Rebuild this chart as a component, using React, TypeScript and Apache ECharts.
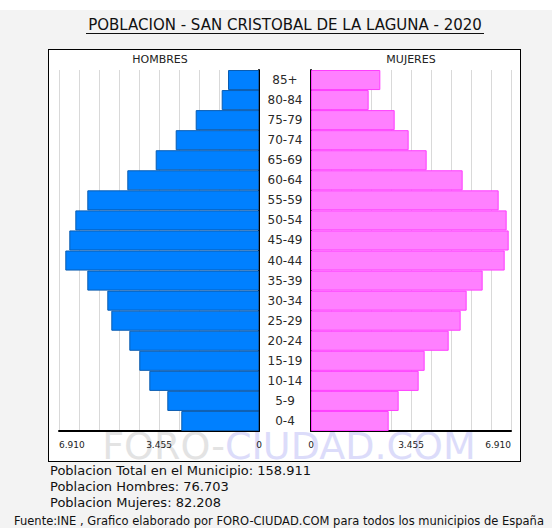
import React, { useEffect, useRef } from "react";
import * as echarts from "echarts";

const ageGroups = ["0-4", "5-9", "10-14", "15-19", "20-24", "25-29", "30-34", "35-39", "40-44", "45-49", "50-54", "55-59", "60-64", "65-69", "70-74", "75-79", "80-84", "85+"];
const hombres = [2685, 3168, 3790, 4136, 4481, 5103, 5241, 5932, 6692, 6554, 6346, 5932, 4550, 3569, 2878, 2187, 1289, 1071];
const mujeres = [2684, 3029, 3720, 3927, 4757, 5171, 5378, 5931, 6692, 6830, 6760, 6484, 5240, 3996, 3374, 2891, 1992, 2395];
const axisMax = 6910;
const axisStep = 691;
const labeledTicks = [0, 3455, 6910];

const titleText = "POBLACION - SAN CRISTOBAL DE LA LAGUNA - 2020";
const summaryLines = [
  "Poblacion Total en el Municipio: 158.911",
  "Poblacion Hombres: 76.703",
  "Poblacion Mujeres: 82.208",
];
const sourceText = "Fuente:INE , Grafico elaborado por FORO-CIUDAD.COM para todos los municipios de España";

const FONT = "DejaVu Sans, Verdana, sans-serif";

function fmt(v: number): string {
  return String(Math.round(v)).replace(/\B(?=(\d{3})+(?!\d))/g, ".");
}

export default function App() {
  const ref = useRef<HTMLDivElement>(null);

  useEffect(() => {
    if (!ref.current) return;
    const chart = echarts.init(ref.current, null, { renderer: "svg" });
    const tickLabel = (v: number) => (labeledTicks.includes(Math.round(v)) ? fmt(v) : "");
    const xCommon = {
      type: "value" as const,
      min: 0,
      max: axisMax,
      interval: axisStep,
      axisLine: { show: true, lineStyle: { color: "#000", width: 2 } },
      axisTick: { show: false },
      splitLine: { show: true, lineStyle: { color: "#d9d9d9", width: 1 } },
    };
    chart.setOption({
      animation: false,
      backgroundColor: "transparent",
      textStyle: { fontFamily: FONT },
      grid: [
        { left: 59, top: 70, width: 200, height: 361 },
        { left: 311, top: 70, width: 200, height: 361 },
      ],
      xAxis: [
        {
          ...xCommon,
          gridIndex: 0,
          inverse: true,
          axisLabel: { formatter: tickLabel, fontSize: 9, color: "#222", margin: 9, fontFamily: FONT, alignMaxLabel: "left", showMinLabel: true, showMaxLabel: true },
        },
        {
          ...xCommon,
          gridIndex: 1,
          axisLabel: { formatter: tickLabel, fontSize: 9, color: "#222", margin: 9, fontFamily: FONT, alignMaxLabel: "right", showMinLabel: true, showMaxLabel: true },
        },
      ],
      yAxis: [
        {
          type: "category",
          gridIndex: 0,
          position: "right",
          data: ageGroups,
          axisLine: { show: true, lineStyle: { color: "#000", width: 2 } },
          axisTick: { show: false },
          axisLabel: { show: false },
          splitLine: { show: false },
        },
        {
          type: "category",
          gridIndex: 1,
          position: "left",
          data: ageGroups,
          axisLine: { show: true, lineStyle: { color: "#000", width: 2 } },
          axisTick: { show: false },
          axisLabel: { show: true, align: "center", margin: 26, fontSize: 12, color: "#2a2a2a", fontFamily: FONT, interval: 0 },
          splitLine: { show: false },
        },
      ],
      series: [
        {
          type: "bar",
          name: "HOMBRES",
          xAxisIndex: 0,
          yAxisIndex: 0,
          data: hombres,
          barCategoryGap: "0%",
          itemStyle: { color: "#0080ff", borderColor: "#0a5cb0", borderWidth: 1 },
        },
        {
          type: "bar",
          name: "MUJERES",
          xAxisIndex: 1,
          yAxisIndex: 1,
          data: mujeres,
          barCategoryGap: "0%",
          itemStyle: { color: "#ff80ff", borderColor: "#ff3cff", borderWidth: 1 },
        },
      ],
      graphic: [
        {
          type: "text",
          z: 0,
          x: 289,
          y: 446,
          style: {
            text: "{a|FORO-}{b|CIUDAD.COM}",
            align: "center",
            verticalAlign: "middle",
            rich: {
              a: { fontSize: 38, fontFamily: FONT, fill: "#e3e3e3" },
              b: { fontSize: 38, fontFamily: FONT, fill: "#dcdcfa" },
            },
          },
        },
        {
          type: "text",
          x: 285,
          y: 25,
          style: { text: titleText, fontSize: 15, fontFamily: FONT, fill: "#111", align: "center", verticalAlign: "middle" },
        },
        {
          type: "line",
          shape: { x1: 86, y1: 33.5, x2: 484, y2: 33.5 },
          style: { stroke: "#111", lineWidth: 1 },
        },
        {
          type: "text",
          x: 160,
          y: 59,
          style: { text: "HOMBRES", fontSize: 11, fontFamily: FONT, fill: "#222", align: "center", verticalAlign: "middle" },
        },
        {
          type: "text",
          x: 411,
          y: 59,
          style: { text: "MUJERES", fontSize: 11, fontFamily: FONT, fill: "#222", align: "center", verticalAlign: "middle" },
        },
        ...summaryLines.map((t, i) => ({
          type: "text",
          x: 50,
          y: 470 + i * 16,
          style: { text: t, fontSize: 13, fontFamily: FONT, fill: "#111", align: "left", verticalAlign: "middle" },
        })),
        {
          type: "text",
          x: 14,
          y: 521,
          style: { text: sourceText, fontSize: 11.5, fontFamily: FONT, fill: "#111", align: "left", verticalAlign: "middle" },
        },
      ],
    });
    return () => chart.dispose();
  }, []);

  return (
    <div style={{ position: "absolute", left: 0, top: 0, width: 552, height: 528, background: "#fff", overflow: "hidden" }}>
      <div style={{ position: "absolute", left: 0, top: 10, width: 552, height: 518, background: "#f3f3f3" }} />
      <div style={{ position: "absolute", left: 48, top: 49, width: 473, height: 413, background: "#fff", border: "1px solid #000", boxSizing: "border-box" }} />
      <div ref={ref} style={{ position: "absolute", left: 0, top: 0, width: 552, height: 528 }} />
    </div>
  );
}
